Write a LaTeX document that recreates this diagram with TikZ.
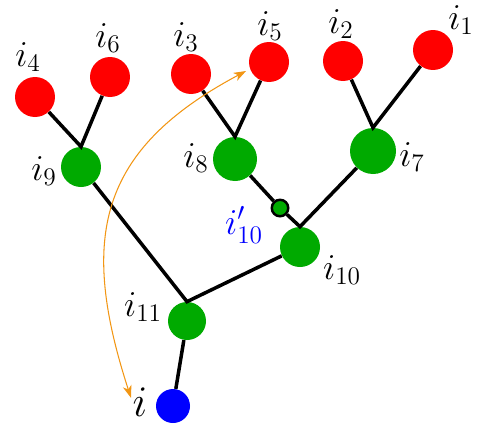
\documentclass[tikz,border=0pt]{standalone}
\usepackage{amsmath}
\usepackage{tikz}
\usepackage{xcolor}
\usetikzlibrary{positioning, calc, arrows.meta}
\definecolor{leafRed}{RGB}{255,0,0}
\definecolor{branchGreen}{RGB}{0,170,0}
\definecolor{rootBlue}{RGB}{0,0,255}
\definecolor{pathOrange}{RGB}{242,150,20}

\begin{document}
\begin{tikzpicture}[x=0.02cm, y=-0.02cm,
    leaf/.style={circle, fill=leafRed, minimum size=0.8cm, inner sep=0pt},
    branch/.style={circle, fill=branchGreen, minimum size=0.8cm, inner sep=0pt},
    root/.style={circle, fill=rootBlue, minimum size=0.68cm, inner sep=0pt},
    joint/.style={circle, fill=branchGreen, draw=black, line width=1.4pt, minimum size=0.33cm, inner sep=0pt},
    lab/.style={font=\huge, inner sep=0pt},
    link/.style={black, line width=2pt}]
    \useasboundingbox (0,0) rectangle (482,433);
    % leaves
    \node[leaf] (i4) at (35,97) {};
    \node[leaf] (i6) at (110,77) {};
    \node[leaf] (i3) at (191,74) {};
    \node[leaf] (i5) at (269,62) {};
    \node[leaf] (i2) at (343,61) {};
    \node[leaf] (i1) at (433,50) {};
    % inner nodes
    \node[branch] (i9) at (81,167) {};
    \node[branch, minimum size=0.88cm] (i8) at (235,159) {};
    \node[branch, minimum size=0.92cm] (i7) at (373,151) {};
    \node[branch] (i10) at (300,247) {};
    \node[branch, minimum size=0.76cm] (i11) at (187,321) {};
    \node[root] (i) at (173,406) {};
    \node[joint] (i10p) at (280,208) {};
    % tree edges
    \draw[link] (i4) -- (i9.north) -- (i6);
    \draw[link] (i3) -- (i8.north) -- (i5);
    \draw[link] (i2) -- (i7.north) -- (i1);
    \draw[link] (i8) -- (i10p) -- (i10.north) -- (i7);
    \draw[link] (i9) -- (i11.north) -- (i10);
    \draw[link] (i11) -- (i);
    % labels
    \node[lab] (l4) at (28,57) {$i_4$};
    \node[lab] (l6) at (108,38) {$i_6$};
    \node[lab] (l3) at (186,37) {$i_3$};
    \node[lab] (l5) at (270,26) {$i_5$};
    \node[lab] (l2) at (341,24) {$i_2$};
    \node[lab] (l1) at (461,20) {$i_1$};
    \node[lab] (l9) at (44,171) {$i_9$};
    \node[lab] (l8) at (196,158) {$i_8$};
    \node[lab] (l7) at (412,157) {$i_7$};
    \node[lab, color=rootBlue] (l10p) at (244,225) {$i'_{10}$};
    \node[lab] (l10) at (342,270) {$i_{10}$};
    \node[lab] (l11) at (143,307) {$i_{11}$};
    \node[lab, font=\fontsize{29}{34}\selectfont] (li) at (140,402) {$i$};
    % path from the leaf back down to i
    \draw[pathOrange, line width=0.6pt, {Stealth[length=7pt,width=5pt,inset=2pt]}-{Stealth[length=7pt,width=5pt,inset=2pt]},
        shorten <=2.5pt, shorten >=2.5pt]
        (li.west) to[out=108, in=208, looseness=1.25] (i5.200);
\end{tikzpicture}
\end{document}
